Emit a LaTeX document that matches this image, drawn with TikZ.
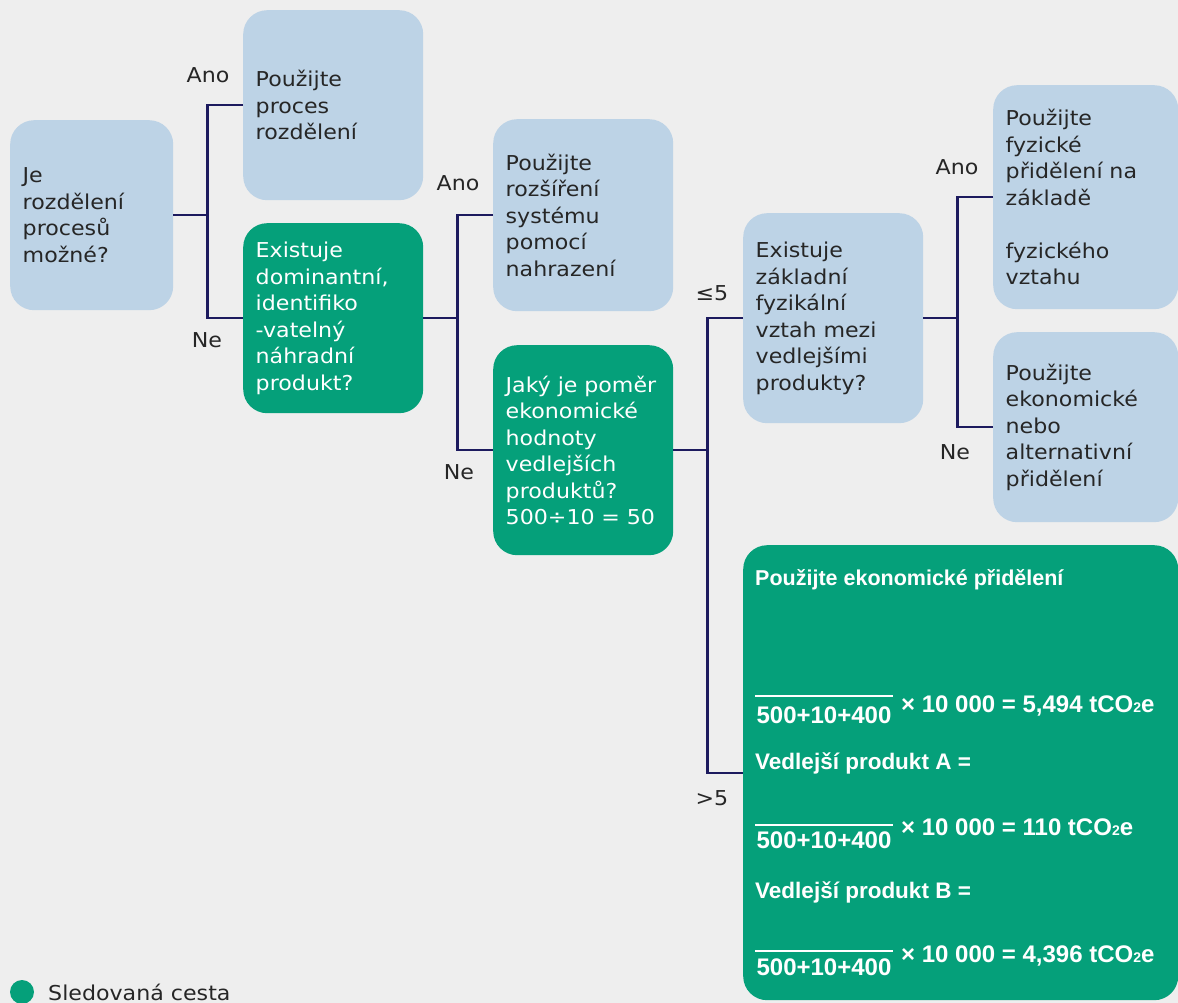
\documentclass[tikz,border=0pt]{standalone}
\usepackage{fontspec}
\newfontfamily\boxfont{DejaVu Sans}[FakeStretch=1.08]
\newfontfamily\calcfont{Liberation Sans}
\definecolor{bg}{RGB}{238,238,238}
\definecolor{paleblue}{RGB}{189,211,230}
\definecolor{pathgreen}{RGB}{5,160,122}
\definecolor{linknavy}{RGB}{28,26,94}
\definecolor{inkgray}{RGB}{38,38,38}
\newcommand\subtwo{{\fontsize{14}{14}\selectfont 2}}

\begin{document}
\begin{tikzpicture}[x=1pt,y=-1pt,
  box/.style={rounded corners=24pt, anchor=north west, inner xsep=12.5pt,
    inner ysep=0pt, align=left, font=\boxfont\fontsize{20.5}{26.5}\selectfont},
  query/.style={box, fill=paleblue, text=inkgray},
  chosen/.style={box, fill=pathgreen, text=white},
  link/.style={draw=linknavy, line width=2.2pt, line join=miter},
  tag/.style={font=\boxfont\fontsize{20.5}{22}\selectfont, text=inkgray, inner sep=0pt},
  calc/.style={font=\calcfont\bfseries\fontsize{22.5}{26}\selectfont, text=white,
    inner sep=0pt, anchor=base west},
  title/.style={calc, font=\calcfont\bfseries\fontsize{21.5}{26}\selectfont},
  sum/.style={calc, font=\calcfont\bfseries\fontsize{24}{26}\selectfont},
  frac/.style={draw=white, line width=1.5pt}
]
% canvas
\fill[bg] (0,0) rectangle (1178,1003);
\useasboundingbox (0,0) rectangle (1178,1003);

% decision boxes
\node[query, minimum width=163pt, minimum height=190pt, text width=138pt] (b1) at (10,120)
  {Je\\rozdělení\\procesů\\možné?};
\node[query, minimum width=180pt, minimum height=190pt, text width=155pt] (b2) at (243,10)
  {Použijte\\proces\\rozdělení};
\node[chosen, minimum width=180pt, minimum height=190pt, text width=155pt] (b3) at (243,223)
  {Existuje\\dominantní,\\identifiko\\-vatelný\\náhradní\\produkt?};
\node[query, minimum width=180pt, minimum height=192pt, text width=155pt] (b4) at (493,119)
  {Použijte\\rozšíření\\systému\\pomocí\\nahrazení};
\node[chosen, minimum width=180pt, minimum height=210pt, text width=155pt] (b5) at (493,345)
  {Jaký je poměr\\ekonomické\\hodnoty\\vedlejších\\produktů?\\500÷10 = 50};
\node[query, minimum width=180pt, minimum height=210pt, text width=155pt] (b6) at (743,213)
  {Existuje\\základní\\fyzikální\\vztah mezi\\vedlejšími\\produkty?};
\node[query, minimum width=185pt, minimum height=224pt, text width=160pt] (b7) at (993,85)
  {Použijte\\fyzické\\přidělení na\\základě\\~\\fyzického\\vztahu};
\node[query, minimum width=185pt, minimum height=190pt, text width=160pt] (b8) at (993,332)
  {Použijte\\ekonomické\\nebo\\alternativní\\přidělení};
\node[chosen, minimum width=435pt, minimum height=455pt, text width=410pt] (b9) at (743,545) {};

% calculation inside the economic allocation box
\node[title] (c0) at (755,585) {Použijte ekonomické přidělení};
\draw[frac] (755,696) -- (893,696);
\node[sum, anchor=base] (d1) at (824,723) {500+10+400};
\node[sum] (r1) at (901,712) {× 10 000 = 5,494 tCO\subtwo e};
\node[calc] (c1) at (755,769) {Vedlejší produkt A =};
\draw[frac] (755,825) -- (893,825);
\node[sum, anchor=base] (d2) at (824,848) {500+10+400};
\node[sum] (r2) at (901,835) {× 10 000 = 110 tCO\subtwo e};
\node[calc] (c2) at (755,898) {Vedlejší produkt B =};
\draw[frac] (755,951) -- (893,951);
\node[sum, anchor=base] (d3) at (824,975) {500+10+400};
\node[sum] (r3) at (901,962) {× 10 000 = 4,396 tCO\subtwo e};

% connectors
\draw[link] (b1.east) -- ++(34,0) coordinate (j1);
\draw[link] (b2.west) -| (j1) |- (b3.west);
\draw[link] (b3.east) -- ++(34,0) coordinate (j2);
\draw[link] (b4.west) -| (j2) |- (b5.west);
\draw[link] (b5.east) -- ++(34,0) coordinate (j3);
\draw[link] (b6.west) -| (j3) |- (b9.west);
\draw[link] (b6.east) -- ++(34,0) coordinate (j4);
\draw[link] (b7.west) -| (j4) |- (b8.west);

% branch labels
\node[tag] (a1) at (208,75) {Ano};
\node[tag] (n1) at (207,340) {Ne};
\node[tag] (a2) at (458,183) {Ano};
\node[tag] (n2) at (459,472) {Ne};
\node[tag] (le) at (712,293) {≤5};
\node[tag] (gt) at (712,798) {>5};
\node[tag] (a3) at (957,167) {Ano};
\node[tag] (n3) at (955,452) {Ne};

% legend
\node[circle, fill=pathgreen, minimum size=24pt, inner sep=0pt] (dot) at (22,992) {};
\node[tag, anchor=base west] (legend) at (48,1000) {Sledovaná cesta};
\end{tikzpicture}
\end{document}
